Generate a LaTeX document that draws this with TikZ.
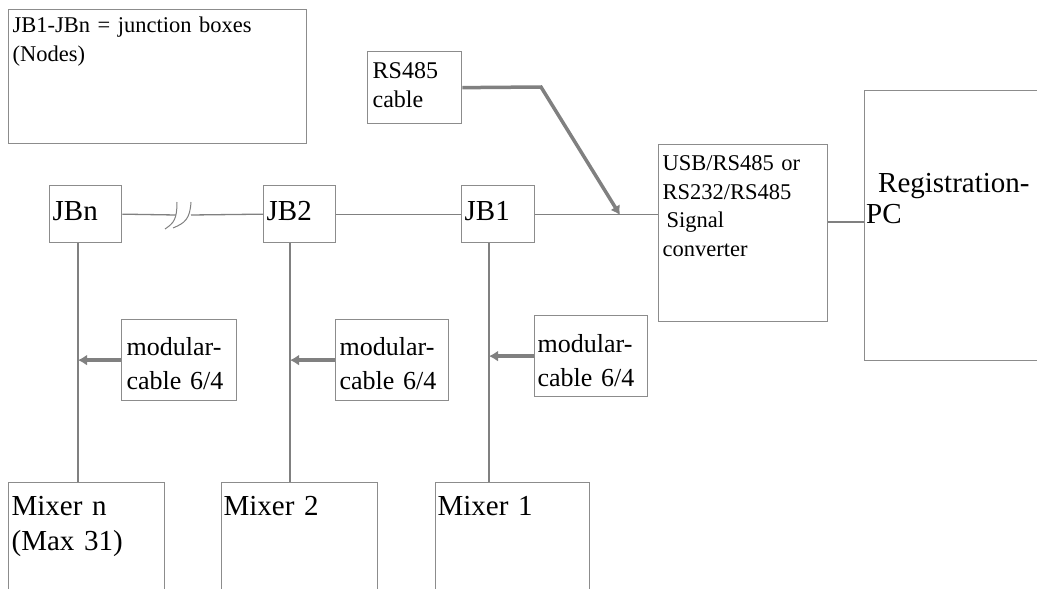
\documentclass[tikz,border=0pt]{standalone}
\usepackage{fontspec}
\setmainfont{Liberation Serif}
\usetikzlibrary{arrows.meta,calc}

\definecolor{boxgray}{RGB}{140,140,140}
\definecolor{wiregray}{RGB}{128,128,128}

\tikzset{
  blk/.style={draw=boxgray,line width=1.3pt,anchor=north west,inner ysep=0pt,align=left},
  wire/.style={draw=wiregray,line width=1.3pt},
  cable/.style={draw=wiregray,line width=3.5pt,-{Latex[length=9pt,width=11pt]}},
  ftext/.style={font=\fontsize{22.5}{28.5}\selectfont},
  fmod/.style={font=\fontsize{26}{34}\selectfont},
  fbig/.style={font=\fontsize{29}{35}\selectfont}
}

\begin{document}
\begin{tikzpicture}[x=1pt,y=-1pt]
\useasboundingbox (0,0) rectangle (1037,589);
\clip (0,0) rectangle (1037,589);

\node[blk,ftext,inner xsep=4pt,text width=290pt,text height=23pt,text depth=111pt] (legend) at (8,9) {JB1-JBn = junction boxes\\(Nodes)};
\node[blk,font=\fontsize{24}{29}\selectfont,inner xsep=5pt,text width=84pt,text height=27pt,text depth=45pt] (rs) at (367,51) {RS485\\cable};

\node[blk,fbig,inner xsep=3pt,text width=66pt,text height=35pt,text depth=22pt] (jbn) at (49,185) {JBn};
\node[blk,fbig,inner xsep=3pt,text width=66pt,text height=35pt,text depth=22pt] (jb2) at (263,185) {JB2};
\node[blk,fbig,inner xsep=3pt,text width=67pt,text height=35pt,text depth=22pt] (jb1) at (461,185) {JB1};

\node[blk,ftext,inner xsep=4pt,text width=161pt,text height=26pt,text depth=151pt] (conv) at (658,144) {USB/RS485 or\\RS232/RS485\\\hspace*{4pt}Signal\\converter};
\node[blk,font=\fontsize{29}{31}\selectfont,inner xsep=1.5pt,text width=190pt,text height=102pt,text depth=168pt] (pc) at (864,90) {\hspace*{12pt}Registration-\\PC};

\node[blk,fmod,inner xsep=5pt,text width=105pt,text height=36pt,text depth=45pt] (modn) at (121,319) {modular-\\cable 6/4};
\node[blk,fmod,inner xsep=4pt,text width=105pt,text height=36pt,text depth=45pt] (mod2) at (335,319) {modular-\\cable 6/4};
\node[blk,fmod,inner xsep=3pt,text width=107pt,text height=37pt,text depth=44pt] (mod1) at (534,315) {modular-\\cable 6/4};

\node[blk,fbig,inner xsep=3pt,text width=150pt,text height=33pt,text depth=97pt] (mxn) at (8,482) {Mixer n\\(Max 31)};
\node[blk,fbig,inner xsep=2pt,text width=152pt,text height=33pt,text depth=97pt] (mx2) at (221,482) {Mixer 2};
\node[blk,fbig,inner xsep=2pt,text width=150pt,text height=33pt,text depth=97pt] (mx1) at (435,482) {Mixer 1};

\coordinate (brk1) at (176,215);
\coordinate (brk2) at (191,215);
\coordinate (tn) at ([xshift=29pt]jbn.south west);
\coordinate (t2) at ([xshift=27pt]jb2.south west);
\coordinate (t1) at ([xshift=28pt]jb1.south west);
\coordinate (pcin) at (864,222);
\coordinate (rsbend) at (541,87);
\coordinate (rstip) at (620,215);

\draw[wire] (jbn.east) -- (brk1);
\draw[wire] (brk2) -- (jb2.west);
\draw[wire,line width=1pt] ($(brk1)+(-11,14)$) .. controls ($(brk1)+(-2,8)$) and ($(brk1)+(1,4)$) .. ($(brk1)+(1,-13)$);
\draw[wire,line width=1pt] ($(brk2)+(-18,13)$) .. controls ($(brk2)+(-6,8)$) and ($(brk2)+(-1,4)$) .. ($(brk2)+(0,-13)$);
\draw[wire] (jb2.east) -- (jb1.west);
\draw[wire] (jb1.east) -- (jb1.east -| conv.west);
\draw[wire] (conv.east |- pcin) -- (pcin);

\draw[wire] (tn) -- (tn |- mxn.north);
\draw[wire] (t2) -- (t2 |- mx2.north);
\draw[wire] (t1) -- (t1 |- mx1.north);

\draw[cable] (modn.west) -- (modn.west -| tn);
\draw[cable] (mod2.west) -- (mod2.west -| t2);
\draw[cable] (mod1.west) -- (mod1.west -| t1);
\draw[cable] (rs.east) -- (rsbend) -- (rstip);

\end{tikzpicture}
\end{document}
